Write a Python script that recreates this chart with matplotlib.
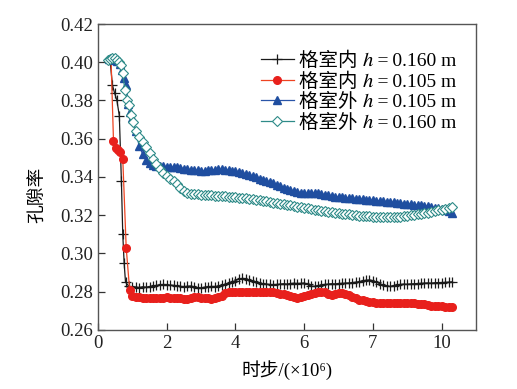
import matplotlib
matplotlib.use('Agg')
import matplotlib.pyplot as plt

# serif for latin, STIX for the italic h / superscript, Noto CJK for Chinese
plt.rcParams['font.family'] = ['Liberation Serif', 'STIXGeneral', 'Noto Sans CJK SC']
plt.rcParams['axes.unicode_minus'] = False

# shared output times after the initial drop (x 10^6 steps)
t_late = [1.1, 1.2, 1.3, 1.4, 1.5, 1.6, 1.7, 1.8, 1.9, 2.0,
          2.1, 2.2, 2.3, 2.4, 2.5, 2.6, 2.7, 2.8, 2.9, 3.0,
          3.1, 3.2, 3.3, 3.4, 3.5, 3.6, 3.7, 3.8, 3.9, 4.0,
          4.1, 4.2, 4.3, 4.4, 4.5, 4.6, 4.7, 4.8, 4.9, 5.0,
          5.1, 5.2, 5.3, 5.4, 5.5, 5.6, 5.7, 5.8, 5.9, 6.0,
          6.1, 6.2, 6.3, 6.4, 6.5, 6.6, 6.7, 6.8, 6.9, 7.0,
          7.1, 7.2, 7.3, 7.4, 7.5, 7.6, 7.7, 7.8, 7.9, 8.0,
          8.1, 8.2, 8.3, 8.4, 8.5, 8.6, 8.7, 8.8, 8.9, 9.0,
          9.1, 9.2, 9.3, 9.4, 9.5, 9.6, 9.7, 9.8, 9.9, 10.0,
          10.1, 10.2, 10.3]

# inside cell, h = 0.160 m
in160_t0 = [0.35, 0.42, 0.48, 0.55, 0.62, 0.68, 0.72, 0.76, 0.80, 0.90, 1.0]
in160_v0 = [0.401, 0.388, 0.384, 0.380, 0.372, 0.338, 0.310, 0.295, 0.285, 0.2828, 0.2826]
in160_v = [0.2825, 0.2822, 0.2826, 0.2824, 0.2827, 0.2830, 0.2833, 0.2836, 0.2838, 0.2837,
           0.2835, 0.2833, 0.2831, 0.2828, 0.2826, 0.2829, 0.2830, 0.2826, 0.2822, 0.2820,
           0.2824, 0.2826, 0.2828, 0.2827, 0.2830, 0.2833, 0.2838, 0.2845, 0.2852, 0.2858,
           0.2866, 0.2870, 0.2868, 0.2862, 0.2855, 0.2850, 0.2846, 0.2842, 0.2840, 0.2838,
           0.2836, 0.2838, 0.2840, 0.2842, 0.2840, 0.2843, 0.2845, 0.2843, 0.2844, 0.2846,
           0.2838, 0.2830, 0.2828, 0.2832, 0.2836, 0.2838, 0.2840, 0.2842, 0.2841, 0.2843,
           0.2844, 0.2845, 0.2846, 0.2848, 0.2850, 0.2853, 0.2857, 0.2860, 0.2862, 0.2858,
           0.2850, 0.2842, 0.2835, 0.2830, 0.2828, 0.2832, 0.2836, 0.2838, 0.2840, 0.2839,
           0.2841, 0.2842, 0.2843, 0.2844, 0.2845, 0.2846, 0.2845, 0.2847, 0.2848, 0.2848,
           0.2849, 0.2850, 0.2852]

# inside cell, h = 0.105 m
in105_t0 = [0.38, 0.45, 0.52, 0.58, 0.64, 0.72, 0.82, 0.92, 1.0]
in105_v0 = [0.401, 0.359, 0.355, 0.354, 0.353, 0.3496, 0.303, 0.281, 0.2778]
in105_v = [0.2772, 0.2770, 0.2768, 0.2767, 0.2768, 0.2766, 0.2767, 0.2769, 0.2768, 0.2770,
           0.2769, 0.2768, 0.2766, 0.2765, 0.2762, 0.2760, 0.2766, 0.2772, 0.2770, 0.2768,
           0.2766, 0.2765, 0.2764, 0.2767, 0.2772, 0.2780, 0.2795, 0.2800, 0.2800, 0.2801,
           0.2800, 0.2800, 0.2801, 0.2800, 0.2799, 0.2800, 0.2801, 0.2800, 0.2800, 0.2799,
           0.2798, 0.2794, 0.2790, 0.2786, 0.2782, 0.2778, 0.2772, 0.2768, 0.2770, 0.2776,
           0.2782, 0.2788, 0.2794, 0.2798, 0.2800, 0.2801, 0.2786, 0.2784, 0.2788, 0.2791,
           0.2792, 0.2790, 0.2785, 0.2775, 0.2765, 0.2758, 0.2755, 0.2750, 0.2747, 0.2744,
           0.2742, 0.2740, 0.2739, 0.2740, 0.2740, 0.2741, 0.2740, 0.2739, 0.2740, 0.2741,
           0.2740, 0.2739, 0.2738, 0.2736, 0.2734, 0.2731, 0.2728, 0.2726, 0.2724, 0.2723,
           0.2721, 0.2720, 0.2718]

# outside cell, h = 0.105 m
out105_t0 = [0.32, 0.40, 0.48, 0.56, 0.64, 0.70, 0.76, 0.82, 0.88, 0.94, 1.0]
out105_v0 = [0.4015, 0.4015, 0.4012, 0.4005, 0.399, 0.396, 0.392, 0.388, 0.378, 0.374, 0.371]
out105_v = [0.3640, 0.3560, 0.3520, 0.3490, 0.3475, 0.3465, 0.3460, 0.3458, 0.3455, 0.3452,
            0.3450, 0.3452, 0.3450, 0.3447, 0.3444, 0.3441, 0.3438, 0.3436, 0.3434, 0.3432,
            0.3433, 0.3435, 0.3437, 0.3439, 0.3440, 0.3440, 0.3438, 0.3435, 0.3432, 0.3429,
            0.3425, 0.3420, 0.3415, 0.3410, 0.3404, 0.3398, 0.3392, 0.3386, 0.3380, 0.3374,
            0.3368, 0.3360, 0.3352, 0.3345, 0.3338, 0.3332, 0.3327, 0.3322, 0.3318, 0.3315,
            0.3314, 0.3315, 0.3316, 0.3314, 0.3311, 0.3308, 0.3304, 0.3301, 0.3298, 0.3295,
            0.3293, 0.3291, 0.3289, 0.3288, 0.3287, 0.3286, 0.3284, 0.3282, 0.3280, 0.3278,
            0.3276, 0.3275, 0.3273, 0.3271, 0.3269, 0.3267, 0.3265, 0.3263, 0.3261, 0.3259,
            0.3257, 0.3255, 0.3253, 0.3251, 0.3249, 0.3246, 0.3243, 0.3240, 0.3236, 0.3231,
            0.3226, 0.3220, 0.3214]

# outside cell, h = 0.160 m
out160_t0 = [0.30, 0.36, 0.42, 0.48, 0.54, 0.60, 0.66, 0.72, 0.78, 0.84, 0.90, 0.96, 1.02]
out160_v0 = [0.4010, 0.4018, 0.4022, 0.4020, 0.4012, 0.4002, 0.3985, 0.3945, 0.3855,
             0.3805, 0.3775, 0.3725, 0.3690]
out160_v = [0.3642, 0.3610, 0.3582, 0.3555, 0.3525, 0.3495, 0.3466, 0.3440, 0.3420, 0.3405,
            0.3392, 0.3380, 0.3362, 0.3343, 0.3328, 0.3318, 0.3312, 0.3310, 0.3309, 0.3308,
            0.3307, 0.3306, 0.3305, 0.3303, 0.3302, 0.3300, 0.3299, 0.3297, 0.3296, 0.3294,
            0.3292, 0.3290, 0.3288, 0.3286, 0.3284, 0.3281, 0.3278, 0.3275, 0.3272, 0.3269,
            0.3266, 0.3263, 0.3260, 0.3257, 0.3254, 0.3251, 0.3248, 0.3245, 0.3242, 0.3239,
            0.3236, 0.3233, 0.3230, 0.3227, 0.3224, 0.3221, 0.3218, 0.3215, 0.3212, 0.3210,
            0.3208, 0.3206, 0.3204, 0.3202, 0.3200, 0.3198, 0.3196, 0.3195, 0.3194, 0.3193,
            0.3192, 0.3191, 0.3190, 0.3190, 0.3190, 0.3191, 0.3192, 0.3193, 0.3195, 0.3197,
            0.3199, 0.3201, 0.3204, 0.3207, 0.3210, 0.3213, 0.3217, 0.3221, 0.3225, 0.3229,
            0.3233, 0.3237, 0.3241]

# U+210E is the italic h, U+2009 a thin space, U+2076 the superscript 6
labels = ['格室内 \u210e\u2009=\u20090.160 m', '格室内 \u210e\u2009=\u20090.105 m',
          '格室外 \u210e\u2009=\u20090.105 m', '格室外 \u210e\u2009=\u20090.160 m']
xtick_pos = [0, 2, 4, 6, 8, 10]
xtick_labels = ['0', '2', '4', '6', '7', '10']
ytick_pos = [0.26, 0.28, 0.30, 0.32, 0.34, 0.36, 0.38, 0.40, 0.42]

fig = plt.figure(figsize=(5.17, 3.89), dpi=100)
ax = fig.add_axes([0.1896, 0.1517, 0.7311, 0.7866])

ax.plot(in160_t0 + t_late, in160_v0 + in160_v, color='#1a1a1a', lw=0.9,
        marker='+', ms=7, mew=0.9, label=labels[0])
ax.plot(in105_t0 + t_late, in105_v0 + in105_v, color='#ee4422', lw=0.9,
        marker='o', ms=5.5, mfc='#e8201c', mec='#e8201c', label=labels[1])
ax.plot(out105_t0 + t_late, out105_v0 + out105_v, color='#2a55a8', lw=0.9,
        marker='^', ms=6, mfc='#1f4ea0', mec='#1f4ea0', label=labels[2])
ax.plot(out160_t0 + t_late, out160_v0 + out160_v, color='#2e8b88', lw=0.9,
        marker='D', ms=5, mfc='white', mec='#2e8b88', mew=0.8, label=labels[3])

ax.set_xlim(0, 11)
ax.set_ylim(0.26, 0.42)
ax.set_xticks(xtick_pos)
ax.set_xticklabels(xtick_labels)
ax.set_yticks(ytick_pos)
ax.set_yticklabels([f'{v:.2f}' for v in ytick_pos])
ax.tick_params(direction='in', length=5, width=0.9, labelsize=13.5,
               colors='#333333', labelcolor='#222222')

for s in ax.spines.values():
    s.set_color('#555555')
    s.set_linewidth(1.0)

ax.set_xlabel('时步/(×10\u2076)', fontsize=13.5, labelpad=6)
ax.set_ylabel('孔隙率', fontsize=13.5)
ax.yaxis.set_label_coords(-0.135, 0.44)

ax.legend(loc='upper left', bbox_to_anchor=(0.43, 0.91), frameon=False,
          fontsize=14, handlelength=1.7, handletextpad=0.3,
          labelspacing=0.12, borderpad=0, borderaxespad=0)

fig.savefig('out.png', dpi=100)
